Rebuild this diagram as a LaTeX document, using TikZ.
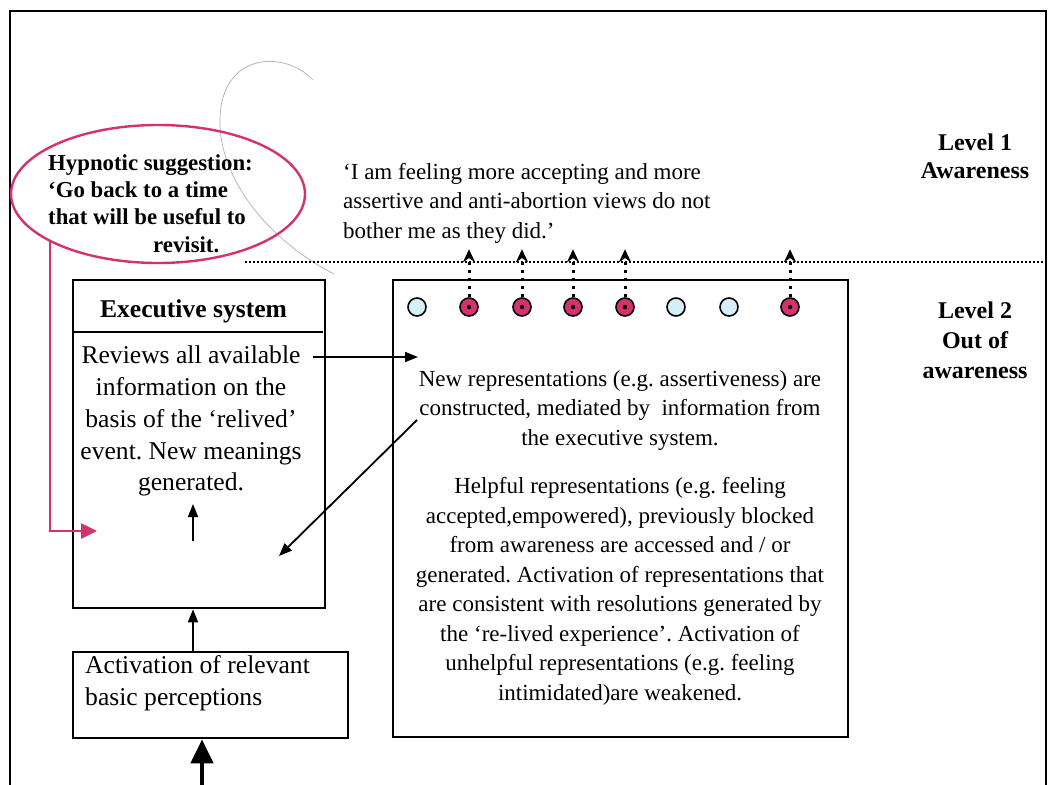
\documentclass[tikz,border=0pt]{standalone}
\usepackage{fontspec}
\setmainfont{Liberation Serif}
\frenchspacing
\usetikzlibrary{arrows.meta,shapes.geometric}
\definecolor{hypnopink}{RGB}{212,50,110}
\definecolor{restblue}{RGB}{214,238,248}
\definecolor{sketchgrey}{RGB}{185,172,178}

\begin{document}
\begin{tikzpicture}[x=1pt,y=-1pt,
  frame/.style={draw,line width=2pt},
  box/.style={draw,line width=2.7pt,inner sep=0pt},
  arr/.style={line width=1.8pt,-{Triangle[length=13pt,width=10pt]}},
  bigarr/.style={line width=4.5pt,-{Triangle[length=24pt,width=22pt]}},
  pinkarr/.style={draw=hypnopink,line width=2.6pt,-{Triangle[length=16pt,width=15pt]},hypnopink},
  riseup/.style={line width=3pt,dash pattern=on 3pt off 5pt,-{Stealth[length=13pt,width=12pt]}},
  levelline/.style={line width=2pt,dash pattern=on 2pt off 2pt},
  rest/.style={circle,draw,line width=1.6pt,fill=restblue,minimum size=18pt,inner sep=0pt},
  live/.style={circle,draw,line width=1.6pt,fill=hypnopink,minimum size=18pt,inner sep=0pt},
  bodytext/.style={font=\fontsize{23}{29.5}\selectfont,inner sep=0pt},
  exectext/.style={font=\fontsize{25.6}{31.7}\selectfont,inner sep=0pt},
  boldtext/.style={font=\bfseries\fontsize{22.8}{27.4}\selectfont,inner sep=0pt},
  leveltext/.style={font=\bfseries\fontsize{24}{28}\selectfont,inner sep=0pt,align=center}
]
\useasboundingbox (0,0) rectangle (1048,784);
\fill[white] (0,0) rectangle (1048,784);

% page frame, open at the bottom
\draw[frame] (10,800) -- (10,11) -- (1046,11) -- (1046,800);

% faint pencil stroke
\draw[sketchgrey,line width=0.7pt] (313,80) .. controls (285,50) and (222,52) .. (220,118)
  .. controls (218,178) and (268,240) .. (334,274);

% boundary between the two levels
\coordinate (levL) at (245,262);
\coordinate (levR) at (1046,262);
\draw[levelline] (levL) -- (levR);

% level labels
\node[leveltext,anchor=north] (lev1) at (975,134) {Level 1\\Awareness};
\node[leveltext,anchor=north,font=\bfseries\fontsize{24}{30}\selectfont] (lev2) at (975,302) {Level 2\\Out of\\awareness};

% hypnotic suggestion
\node[ellipse,draw=hypnopink,line width=2.4pt,minimum width=294pt,minimum height=138pt] (hyp) at (158,194) {};
\node[boldtext,anchor=north west,align=left] (hyptext) at (48,154)
  {Hypnotic suggestion:\\‘Go back to a time\\that will be useful to\\\hspace*{105pt}revisit.};

% reported experience
\node[bodytext,anchor=north west,align=left] (quote) at (343,163)
  {‘I am feeling more accepting and more\\assertive and anti-abortion views do not\\bother me as they did.’};

% executive system
\node[box,minimum width=252pt,minimum height=328pt] (exec) at (199,444) {};
\draw[line width=2.3pt] (72,332) -- (323,332);
\node[exectext,font=\bfseries\fontsize{25.6}{31.7}\selectfont] (exectitle) at (193.5,311) {Executive system};
\node[exectext,anchor=north,align=center] (execbody) at (191,346)
  {Reviews all available\\information on the\\basis of the ‘relived’\\event. New meanings\\generated.};

% basic perceptions
\node[box,minimum width=275pt,minimum height=86pt] (act) at (210.5,695) {};
\node[exectext,anchor=north west,align=left,font=\fontsize{25.6}{32}\selectfont] (acttext) at (85,655)
  {Activation of relevant\\basic perceptions};

% representations
\node[box,minimum width=455pt,minimum height=457pt] (reps) at (620.5,508.5) {};
\node[bodytext,anchor=north,align=center] (repstext) at (620,370)
  {New representations (e.g. assertiveness) are\\constructed, mediated by~ information from\\the executive system.\\[19pt]
   Helpful representations (e.g. feeling\\accepted,empowered), previously blocked\\from awareness are accessed and / or\\generated. Activation of representations that\\are consistent with resolutions generated by\\the ‘re-lived experience’. Activation of\\unhelpful representations (e.g. feeling\\intimidated)are weakened.};

% representation units
\node[rest] (u1) at (417,307) {};
\node[live] (u2) at (469,307) {};
\node[live] (u3) at (522,307) {};
\node[live] (u4) at (573,307) {};
\node[live] (u5) at (625,307) {};
\node[rest] (u6) at (676,307) {};
\node[rest] (u7) at (729,307) {};
\node[live] (u8) at (790,307) {};
\foreach \u in {u2,u3,u4,u5,u8}{
  \fill (\u.center) circle (2.2pt);
  \draw[riseup] (\u.north) -- ++(0,-48);
}

% connectors
\coordinate (pinkin) at (97,531);
\draw[pinkarr] (hyp.204) |- (pinkin);

\coordinate (revout) at (313,357);
\coordinate (repsin) at (418,357);
\draw[arr] (revout) -- (repsin);

\coordinate (repsout) at (417,420);
\coordinate (execin) at (279,556);
\draw[arr] (repsout) -- (execin);

\coordinate (meanlow) at (193,541);
\coordinate (meanhigh) at (193,504);
\draw[arr] (meanlow) -- (meanhigh);

\draw[arr] (act.north -| meanlow) -- (exec.south -| meanlow);

\coordinate (input) at (202,800);
\draw[bigarr] (input) -- (act.south -| input);
\end{tikzpicture}
\end{document}
